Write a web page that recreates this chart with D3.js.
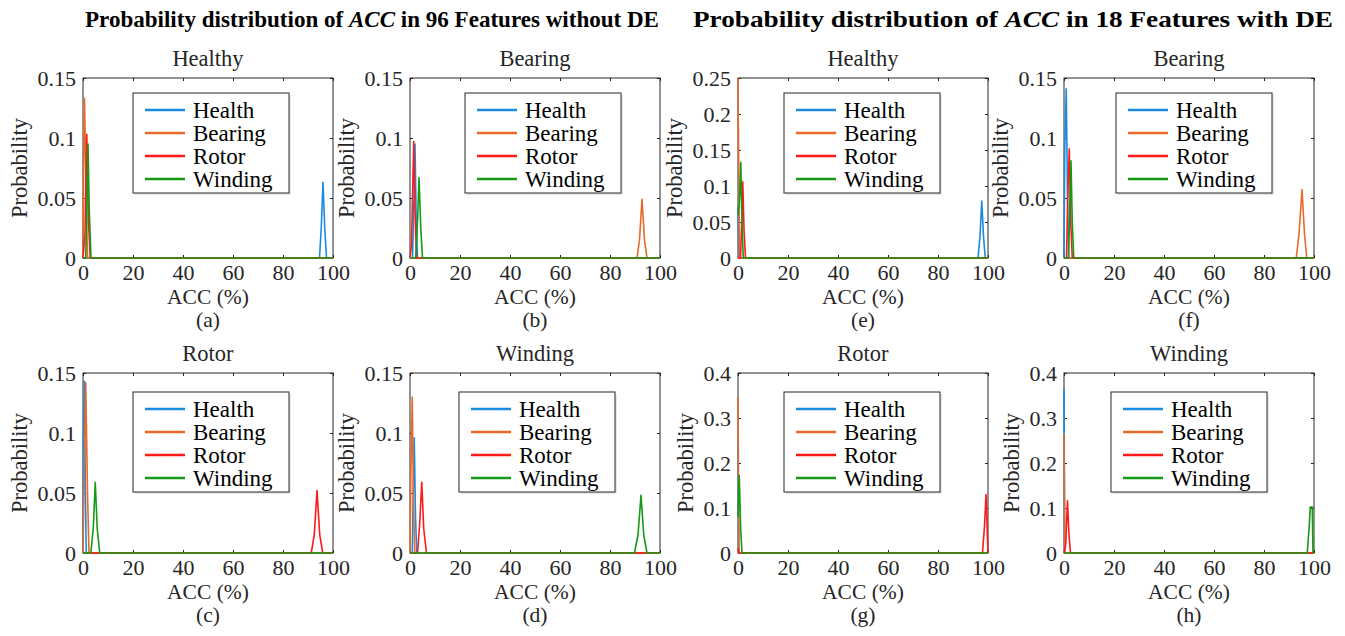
<!DOCTYPE html>
<html>
<head>
<meta charset="utf-8">
<script src="https://cdn.jsdelivr.net/npm/d3@7"></script>
<style>
  body { margin: 0; background: #fff; }
  svg text { font-family: "Liberation Serif", "Times New Roman", serif; fill: #262626; }
</style>
</head>
<body>
<div id="chart"></div>
<script>
// classes shown in every panel
const classes = ["Health", "Bearing", "Rotor", "Winding"];
const classColors = ["#1a8ce0", "#e8692a", "#ff1a1a", "#149a14"];

const panelTitles = ["Healthy", "Bearing", "Healthy", "Bearing", "Rotor", "Winding", "Rotor", "Winding"];
const panelLetters = ["(a)", "(b)", "(e)", "(f)", "(c)", "(d)", "(g)", "(h)"];
const panelYMax = [0.15, 0.15, 0.25, 0.15, 0.15, 0.15, 0.4, 0.4];
const panelYStep = [0.05, 0.05, 0.05, 0.05, 0.05, 0.05, 0.1, 0.1];
const xTicks = [0, 20, 40, 60, 80, 100];

// curves, [ACC %, probability], order = classes
const curvesA = [
  [[0,0],[94.6,0],[95.3,0.025],[96,0.063],[96.7,0.025],[97.4,0],[100,0]],
  [[0,0],[0.2,0.07],[0.6,0.133],[1.2,0.06],[1.8,0],[100,0]],
  [[0,0],[0.8,0.02],[1.5,0.103],[2.2,0.03],[2.9,0],[100,0]],
  [[0,0],[1.1,0],[1.6,0.05],[2,0.095],[2.5,0.04],[3.2,0],[100,0]]
];
const curvesB = [
  [[0,0],[1,0],[1.6,0.05],[2,0.095],[2.5,0.03],[3,0],[100,0]],
  [[0,0],[90.8,0],[91.8,0.015],[92.8,0.049],[93.8,0.015],[94.8,0],[100,0]],
  [[0,0],[0.6,0.01],[1.1,0.06],[1.5,0.097],[2,0.04],[2.6,0],[100,0]],
  [[0,0],[2.3,0],[3,0.03],[3.6,0.067],[4.3,0.025],[5,0],[100,0]]
];
const curvesE = [
  [[0,0.07],[0.4,0],[96,0],[96.8,0.03],[97.5,0.079],[98.2,0.03],[98.9,0],[100,0]],
  [[0,0.25],[0.6,0],[100,0]],
  [[0,0],[1,0],[1.5,0.05],[1.9,0.106],[2.4,0.04],[3,0],[100,0]],
  [[0,0.06],[0.6,0.08],[1.1,0.133],[1.6,0.05],[2.1,0],[100,0]]
];
const curvesF = [
  [[0,0],[0.3,0.09],[0.9,0.141],[1.4,0.05],[1.9,0],[100,0]],
  [[0,0],[92.9,0],[94,0.02],[95.2,0.057],[96.2,0.02],[97.1,0],[100,0]],
  [[0,0],[1,0],[1.5,0.05],[2.1,0.091],[2.7,0.03],[3.3,0],[100,0]],
  [[0,0],[1.8,0],[2.3,0.04],[2.8,0.081],[3.3,0.03],[3.9,0],[100,0]]
];
const curvesC = [
  [[0,0],[0.2,0.09],[0.5,0.143],[0.9,0.06],[1.3,0],[100,0]],
  [[0,0],[0.5,0.07],[1.1,0.142],[1.8,0.05],[2.4,0],[100,0]],
  [[0,0],[91.3,0],[92.5,0.015],[93.6,0.052],[94.7,0.015],[95.9,0],[100,0]],
  [[0,0],[3.1,0],[4.1,0.02],[4.9,0.059],[5.7,0.02],[6.7,0],[100,0]]
];
const curvesD = [
  [[0,0],[0.9,0],[1.3,0.05],[1.7,0.096],[2.2,0.03],[2.7,0],[100,0]],
  [[0,0],[0.3,0.06],[0.9,0.13],[1.4,0.04],[1.9,0],[100,0]],
  [[0,0],[3,0],[3.9,0.025],[4.7,0.059],[5.5,0.02],[6.6,0],[100,0]],
  [[0,0],[89.8,0],[91.2,0.015],[92.4,0.048],[93.5,0.015],[94.8,0],[100,0]]
];
const curvesG = [
  [[0,0.25],[0.3,0],[100,0]],
  [[0,0.345],[0.4,0],[100,0]],
  [[0,0.01],[0.5,0],[97.8,0],[98.6,0.06],[99.2,0.13],[99.7,0.05],[100,0]],
  [[0,0.08],[0.5,0.172],[1.1,0.05],[1.6,0],[100,0]]
];
const curvesH = [
  [[0,0.365],[0.3,0],[100,0]],
  [[0,0.265],[0.35,0],[100,0]],
  [[0,0],[0.7,0.02],[1.4,0.116],[2,0.04],[2.6,0],[100,0]],
  [[0,0],[97.3,0],[98.1,0.06],[98.5,0.102],[99.3,0.102],[99.6,0],[100,0]]
];
const panelCurves = [curvesA, curvesB, curvesE, curvesF, curvesC, curvesD, curvesG, curvesH];

// layout
const W = 1345, H = 636;
const colLeft = [83, 410, 738, 1064];
const rowTop = [78, 373];
const axW = 250, axH = 180;
const legendDx = [50, 55, 46, 52, 50, 49, 46, 47];
const legendDy = [15, 15, 15, 15, 19, 19, 19, 19];
const axisColor = "#262626";

const svg = d3.select("#chart").append("svg")
    .attr("width", W)
    .attr("height", H);

// main titles
let mainTitles = [
  {x: 85, w: 574, text: "96 Features without DE"},
  {x: 693, w: 640, text: "18 Features with DE"}
];
mainTitles.forEach((t) => {
  let tt = svg.append("text")
      .attr("x", t.x)
      .attr("y", 27)
      .attr("textLength", t.w)
      .attr("lengthAdjust", "spacingAndGlyphs")
      .style("font-size", "23px")
      .style("font-weight", "bold")
      .style("fill", "#000");
  tt.append("tspan").text("Probability distribution of ");
  tt.append("tspan").style("font-style", "italic").text("ACC");
  tt.append("tspan").text(" in " + t.text);
});

panelTitles.forEach((title, i) => {
  let left = colLeft[i % 4];
  let top = rowTop[Math.floor(i / 4)];
  let g = svg.append("g").attr("transform", "translate(" + left + "," + top + ")");

  let x = d3.scaleLinear().domain([0, 100]).range([0, axW]);
  let y = d3.scaleLinear().domain([0, panelYMax[i]]).range([axH, 0]);
  let yTicks = d3.range(0, panelYMax[i] + 1e-9, panelYStep[i]).map(v => +v.toFixed(2));

  // box
  g.append("rect")
      .attr("width", axW)
      .attr("height", axH)
      .attr("fill", "#fff")
      .attr("stroke", axisColor)
      .attr("stroke-width", 1);

  // axes, ticks inside, also mirrored on top/right
  let fmt = (d) => String(d);
  let xAx = g.append("g").attr("transform", "translate(0," + axH + ")")
      .call(d3.axisBottom(x).tickValues(xTicks).tickSizeInner(-3).tickSizeOuter(0).tickPadding(8).tickFormat(fmt));
  let xAxTop = g.append("g")
      .call(d3.axisTop(x).tickValues(xTicks).tickSizeInner(-3).tickSizeOuter(0).tickFormat(""));
  let yAx = g.append("g")
      .call(d3.axisLeft(y).tickValues(yTicks).tickSizeInner(-3).tickSizeOuter(0).tickPadding(7).tickFormat(fmt));
  let yAxR = g.append("g").attr("transform", "translate(" + axW + ",0)")
      .call(d3.axisRight(y).tickValues(yTicks).tickSizeInner(-3).tickSizeOuter(0).tickFormat(""));
  [xAx, xAxTop, yAx, yAxR].forEach((a) => {
    a.attr("font-family", null);
    a.select(".domain").remove();
    a.selectAll("line").attr("stroke", axisColor);
    a.selectAll("text").style("font-size", "22px").attr("fill", axisColor);
  });
  xAx.selectAll("text").attr("dy", "0.71em").attr("y", 6);
  yAx.selectAll("text").attr("dy", "0.35em");

  // curves
  let clipId = "clip" + i;
  g.append("clipPath").attr("id", clipId)
    .append("rect").attr("x", -1).attr("y", -1).attr("width", axW + 2).attr("height", axH + 2);
  let line = d3.line().x(d => x(d[0])).y(d => y(d[1]));
  g.append("g").attr("clip-path", "url(#" + clipId + ")")
    .selectAll("path")
    .data(panelCurves[i])
    .enter()
    .append("path")
      .attr("d", line)
      .attr("fill", "none")
      .attr("stroke", (d, k) => classColors[k])
      .attr("stroke-width", 1.6)
      .attr("stroke-linejoin", "round");

  // legend
  let lg = g.append("g").attr("transform", "translate(" + legendDx[i] + "," + legendDy[i] + ")");
  lg.append("rect")
      .attr("x", 2).attr("y", 2)
      .attr("width", 156).attr("height", 100)
      .attr("fill", "#e6e6e6");
  lg.append("rect")
      .attr("width", 156).attr("height", 100)
      .attr("fill", "#fff")
      .attr("stroke", axisColor)
      .attr("stroke-width", 1);
  classes.forEach((c, k) => {
    let yy = 17 + k * 23;
    lg.append("line")
        .attr("x1", 12).attr("x2", 52)
        .attr("y1", yy).attr("y2", yy)
        .attr("stroke", classColors[k])
        .attr("stroke-width", 2.5);
    lg.append("text")
        .attr("x", 60).attr("y", yy)
        .attr("dy", "0.35em")
        .style("font-size", "23px")
        .style("fill", "#000")
        .text(c);
  });

  // panel title, labels
  g.append("text")
      .attr("x", axW / 2).attr("y", -12)
      .attr("text-anchor", "middle")
      .style("font-size", "22.5px")
      .text(title);
  g.append("text")
      .attr("x", axW / 2).attr("y", axH + 46)
      .attr("text-anchor", "middle")
      .style("font-size", "21.5px")
      .text("ACC (%)");
  g.append("text")
      .attr("x", axW / 2).attr("y", axH + 69)
      .attr("text-anchor", "middle")
      .style("font-size", "21.5px")
      .text(panelLetters[i]);

  // ylabel sits left of the widest tick label
  let tw = d3.max(yAx.selectAll("text").nodes(), n => n.getComputedTextLength());
  g.append("text")
      .attr("transform", "translate(" + (-7 - tw - 18) + "," + (axH / 2) + ") rotate(-90)")
      .attr("text-anchor", "middle")
      .attr("dy", "0.35em")
      .style("font-size", "22.5px")
      .text("Probability");
});
</script>
</body>
</html>
